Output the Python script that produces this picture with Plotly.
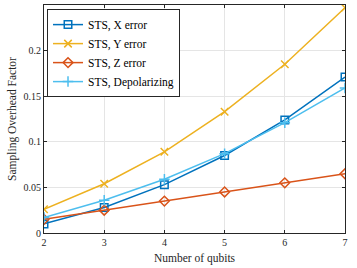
import plotly.graph_objects as go

qubits = [2, 3, 4, 5, 6, 7]
x_err = [0.010, 0.028, 0.053, 0.085, 0.124, 0.171]
y_err = [0.026, 0.054, 0.089, 0.133, 0.185, 0.247]
z_err = [0.015, 0.025, 0.035, 0.045, 0.055, 0.065]
depol = [0.017, 0.036, 0.059, 0.087, 0.121, 0.159]

names = ["STS, X error", "STS, Y error", "STS, Z error", "STS, Depolarizing"]
colors = ["#0072BD", "#EDB120", "#D95319", "#4DBEEE"]
symbols = ["square-open", "x-thin-open", "diamond-open", "cross-thin-open"]
series = [x_err, y_err, z_err, depol]

FONT = "'Liberation Serif', 'Times New Roman', Times, serif"

fig = go.Figure()
for n, c, s, v in zip(names, colors, symbols, series):
    fig.add_trace(go.Scatter(
        x=qubits, y=v, mode="lines+markers", name=n,
        line=dict(color=c, width=1.5),
        marker=dict(symbol=s, size=7.5, color=c, line=dict(color=c, width=1.5)),
    ))

axis_common = dict(
    showgrid=True, gridcolor="#E5E5E5", gridwidth=1,
    showline=True, linecolor="#262626", linewidth=1, mirror="ticks",
    ticks="inside", ticklen=3, tickcolor="#262626",
    zeroline=False,
    tickfont=dict(family=FONT, size=10, color="#262626"),
)

fig.update_layout(
    width=357, height=268,
    margin=dict(l=44, r=12, t=5, b=35),
    paper_bgcolor="white", plot_bgcolor="white",
    font=dict(family=FONT, color="#262626"),
    xaxis=dict(range=[2, 7], tickvals=qubits, title=dict(text="Number of qubits", font=dict(family=FONT, size=11.5), standoff=6), **axis_common),
    yaxis=dict(range=[0, 0.25], tickvals=[0, 0.05, 0.1, 0.15, 0.2, 0.25],
               ticktext=["0", "0.05", "0.1", "0.15", "0.2", "0.25"],
               title=dict(text="Sampling Overhead Factor", font=dict(family=FONT, size=11.5), standoff=4), **axis_common),
    legend=dict(x=0.01, y=0.982, xanchor="left", yanchor="top",
                bgcolor="white", bordercolor="#262626", borderwidth=1,
                font=dict(family=FONT, size=11.5, color="black"),
                tracegroupgap=0, itemwidth=30),
    showlegend=True,
)

fig.write_html("out.html", config={"displayModeBar": False},
               post_script="document.body.style.margin='0';document.body.style.padding='0';")
